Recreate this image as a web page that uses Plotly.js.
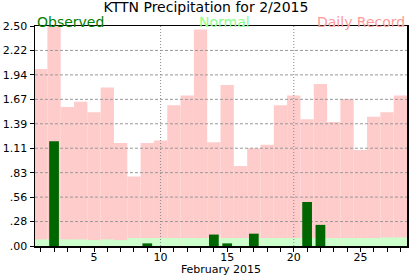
<!DOCTYPE html>
<html>
<head>
<meta charset="utf-8">
<script src="https://cdn.plot.ly/plotly-3.0.1.min.js"></script>
<style>
  html, body { margin: 0; padding: 0; background: #fff; }
  #chart { width: 417px; height: 276px; }
</style>
</head>
<body>
<div id="chart"></div>
<script>
// ---- data (inches), February 2015, KTTN ----
var days = [1,2,3,4,5,6,7,8,9,10,11,12,13,14,15,16,17,18,19,20,21,22,23,24,25,26,27,28];
var observed = [0,1.19,0,0,0,0,0,0,0.03,0,0,0,0,0.13,0.03,0,0.14,0,0,0,0.50,0.24,0,0,0,0,0,0];
var normal = [0.075,0.075,0.075,0.075,0.067,0.075,0.067,0.09,0.09,0.09,0.09,0.09,0.09,0.09,0.09,0.09,0.09,0.09,0.09,0.09,0.09,0.09,0.09,0.09,0.09,0.09,0.097,0.097];
var record = [2.01,2.50,1.58,1.64,1.52,1.80,1.17,0.79,1.17,1.20,1.60,1.71,2.46,1.18,1.83,0.91,1.11,1.15,1.60,1.71,1.44,1.84,1.41,1.67,1.09,1.47,1.52,1.71];

var yTickLabels = ['.00','.28','.56','.83','1.11','1.39','1.67','1.94','2.22','2.50'];
var xLabelDays = [5,10,15,20,25];
var xGridDays = [10,20];

var yMax = 2.5;
var xRange = [0.57, 28.5];
var yTickVals = yTickLabels.map(function(_, i){ return yMax * i / (yTickLabels.length - 1); });
var xTickText = days.map(function(d){ return xLabelDays.indexOf(d) >= 0 ? String(d) : ''; });

// grid lines built from tick values
var hx = [], hy = [];
yTickVals.slice(1, -1).forEach(function(v){ hx.push(xRange[0], xRange[1], null); hy.push(v, v, null); });
var vx = [], vy = [];
xGridDays.forEach(function(d){ vx.push(d, d, null); vy.push(0, yMax, null); });

var FONT = 'DejaVu Sans, Verdana, sans-serif';

var traces = [
  { type:'bar', x:days, y:record, width:1, marker:{color:'#ffcccc', line:{width:0}}, xaxis:'x', yaxis:'y' },
  { type:'bar', x:days, y:normal, width:1, marker:{color:'#ccffcc', line:{width:0}}, xaxis:'x', yaxis:'y' },
  { type:'scatter', mode:'lines', x:hx, y:hy, line:{color:'#999999', width:1, dash:'3px,2px'}, xaxis:'x', yaxis:'y', connectgaps:false },
  { type:'scatter', mode:'lines', x:vx, y:vy, line:{color:'#888888', width:1, dash:'1px,2px'}, xaxis:'x', yaxis:'y', connectgaps:false },
  { type:'bar', x:days, y:observed, width:0.73, marker:{color:'#006600', line:{width:0}}, xaxis:'x2', yaxis:'y2' }
];

var layout = {
  width: 417, height: 276,
  margin: {l:35, r:10, t:26, b:30, pad:0},
  paper_bgcolor:'#ffffff', plot_bgcolor:'#ffffff',
  showlegend:false, hovermode:false, barmode:'overlay',
  font:{family:FONT, size:11, color:'#000'},
  title:{text:'KTTN Precipitation for 2/2015', font:{family:FONT, size:14, color:'#000'},
         x:206/417, xref:'container', xanchor:'center', y:1-7.5/276, yref:'container', yanchor:'middle'},
  xaxis:{range:xRange, tickmode:'array', tickvals:days, ticktext:xTickText,
         ticks:'outside', ticklen:4, tickwidth:1, tickcolor:'#000', ticklabelstandoff:-4,
         showline:true, linecolor:'#000', linewidth:1.5, mirror:true,
         showgrid:false, zeroline:false, fixedrange:true, automargin:false,
         tickfont:{family:FONT, size:11, color:'#000'},
         title:{text:'February 2015', font:{family:FONT, size:11, color:'#000'}, standoff:2}},
  yaxis:{range:[0,yMax], tickmode:'array', tickvals:yTickVals, ticktext:yTickLabels,
         ticks:'outside', ticklen:4, tickwidth:1, tickcolor:'#000',
         showline:true, linecolor:'#000', linewidth:1.5, mirror:true,
         showgrid:false, zeroline:false, fixedrange:true, automargin:false,
         tickfont:{family:FONT, size:11, color:'#000'}},
  xaxis2:{range:xRange, overlaying:'x', visible:false, fixedrange:true},
  yaxis2:{range:[0,yMax], overlaying:'y', visible:false, fixedrange:true},
  annotations:[
    {text:'Observed', xref:'paper', yref:'paper', x:0, xanchor:'left', y:1.02, yanchor:'middle', showarrow:false,
     font:{family:FONT, size:14, color:'#008000'}},
    {text:'Normal', xref:'paper', yref:'paper', x:(224-35)/372, xanchor:'center', y:1.02, yanchor:'middle', showarrow:false,
     font:{family:FONT, size:14, color:'#88ff88'}},
    {text:'Daily Record', xref:'paper', yref:'paper', x:1, xanchor:'right', y:1.02, yanchor:'middle', showarrow:false,
     font:{family:FONT, size:14, color:'#ff9999'}}
  ]
};

Plotly.newPlot('chart', traces, layout, {displayModeBar:false, staticPlot:true});
</script>
</body>
</html>
